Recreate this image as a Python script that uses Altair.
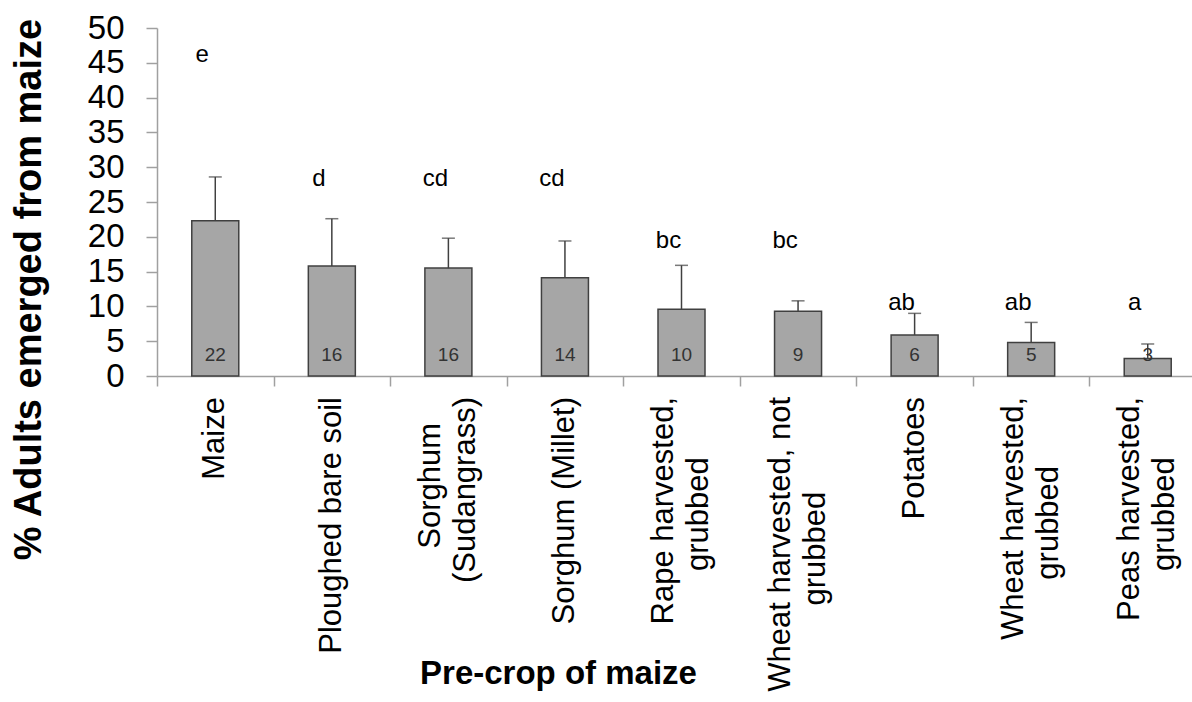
import altair as alt
import pandas as pd

# Non-breaking spaces keep the shorter line of a label centred; the closing
# word joiner stops the renderer from trimming them away.
NB = "\u00a0"
WJ = "\u2060"


def pad(n):
    return NB * n + WJ


crops = [
    "Maize",
    "Ploughed bare soil",
    "Sorghum" + pad(3) + "\n(Sudangrass)",
    "Sorghum (Millet)",
    "Rape harvested,\ngrubbed" + pad(7),
    "Wheat harvested, not\ngrubbed" + pad(11),
    "Potatoes",
    "Wheat harvested,\ngrubbed" + pad(8),
    "Peas harvested,\ngrubbed" + pad(7),
]
emerged = [22.3, 15.8, 15.5, 14.1, 9.6, 9.3, 5.9, 4.8, 2.5]
error_upper = [28.6, 22.6, 19.8, 19.4, 15.9, 10.8, 9.0, 7.7, 4.6]
letters = ["e", "d", "cd", "cd", "bc", "bc", "ab", "ab", "a"]
letter_level = [46.1, 28.3, 28.3, 28.3, 19.4, 19.4, 10.5, 10.5, 10.5]
y_ticks = list(range(0, 51, 5))

df = pd.DataFrame({
    "crop": crops,
    "emerged": emerged,
    "upper": error_upper,
    "letter": letters,
    "letter_level": letter_level,
})

AXIS_GREY = "#a0a0a0"

x_scale = alt.Scale(range=[0, 1049], paddingInner=0, paddingOuter=0)
x_axis = alt.Axis(
    title="Pre-crop of maize",
    titleFontSize=33,
    titleFontWeight="bold",
    titleColor="black",
    titleX=401,
    titleY=307,
    titleAlign="center",
    titleBaseline="alphabetic",
    titleAngle=0,
    labels=False,
    tickBand="extent",
    tickSize=10,
    tickColor=AXIS_GREY,
    tickWidth=1.5,
    domainColor=AXIS_GREY,
    domainWidth=1.5,
    grid=False,
)
x_enc = alt.X("crop:N", sort=crops, scale=x_scale, axis=x_axis)

y_scale = alt.Scale(domain=[0, 50], nice=False)
y_axis = alt.Axis(
    values=y_ticks,
    title="% Adults emerged from maize",
    titleFontSize=38,
    titleFontWeight="bold",
    titleColor="black",
    titleAngle=270,
    titleX=-128,
    titleY=261,
    titleAlign="center",
    titleBaseline="middle",
    labelFontSize=33,
    labelPadding=22,
    labelColor="black",
    tickSize=11,
    tickColor=AXIS_GREY,
    tickWidth=1.5,
    domainColor=AXIS_GREY,
    domainWidth=1.5,
    grid=False,
)


def y_enc(field):
    return alt.Y(field, scale=y_scale, axis=y_axis)


base = alt.Chart(df)

bars = base.mark_bar(
    color="#a6a6a6", stroke="#404040", strokeWidth=1.5, size=47,
).encode(x=x_enc, y=y_enc("emerged:Q"))

err_line = base.mark_rule(color="#404040", strokeWidth=1.5).encode(
    x=x_enc, y=y_enc("emerged:Q"), y2="upper:Q",
)

err_cap = base.mark_tick(
    color="#404040", size=13, thickness=1.5, orient="horizontal"
).encode(x=x_enc, y=y_enc("upper:Q"))

counts = base.transform_calculate(zero="0").mark_text(
    fontSize=19, color="#333333", baseline="alphabetic", dy=-15
).encode(
    x=x_enc,
    y=y_enc("zero:Q"),
    text=alt.Text("emerged:Q", format=".0f"),
)

group_letters = base.mark_text(
    fontSize=24, color="black", baseline="middle", dx=-13
).encode(
    x=x_enc,
    y=y_enc("letter_level:Q"),
    text="letter:N",
)

# Category names below the axis, read bottom-to-top; two-line names are
# shifted half a line left so the block sits centred on its band.
label_style = dict(
    angle=270, align="right", baseline="middle", fontSize=31,
    lineHeight=35, lineBreak="\n", color="black", dx=-21,
)
one_line = base.transform_filter("indexof(datum.crop, '\\n') < 0").transform_calculate(
    zero="0"
).mark_text(**label_style).encode(x=x_enc, y=y_enc("zero:Q"), text="crop:N")
two_line = base.transform_filter("indexof(datum.crop, '\\n') >= 0").transform_calculate(
    zero="0"
).mark_text(dy=-17.5, **label_style).encode(x=x_enc, y=y_enc("zero:Q"), text="crop:N")

chart = alt.layer(
    bars, err_line, err_cap, counts, group_letters, one_line, two_line
).properties(
    width=1035,
    height=348,
    autosize=alt.AutoSizeParams(type="none"),
    padding={"left": 157, "top": 28, "right": 0, "bottom": 326},
).configure(
    font="Liberation Sans",
    background="white",
).configure_view(stroke=None)

chart.save("out.html", embed_options={"renderer": "svg", "actions": False})
